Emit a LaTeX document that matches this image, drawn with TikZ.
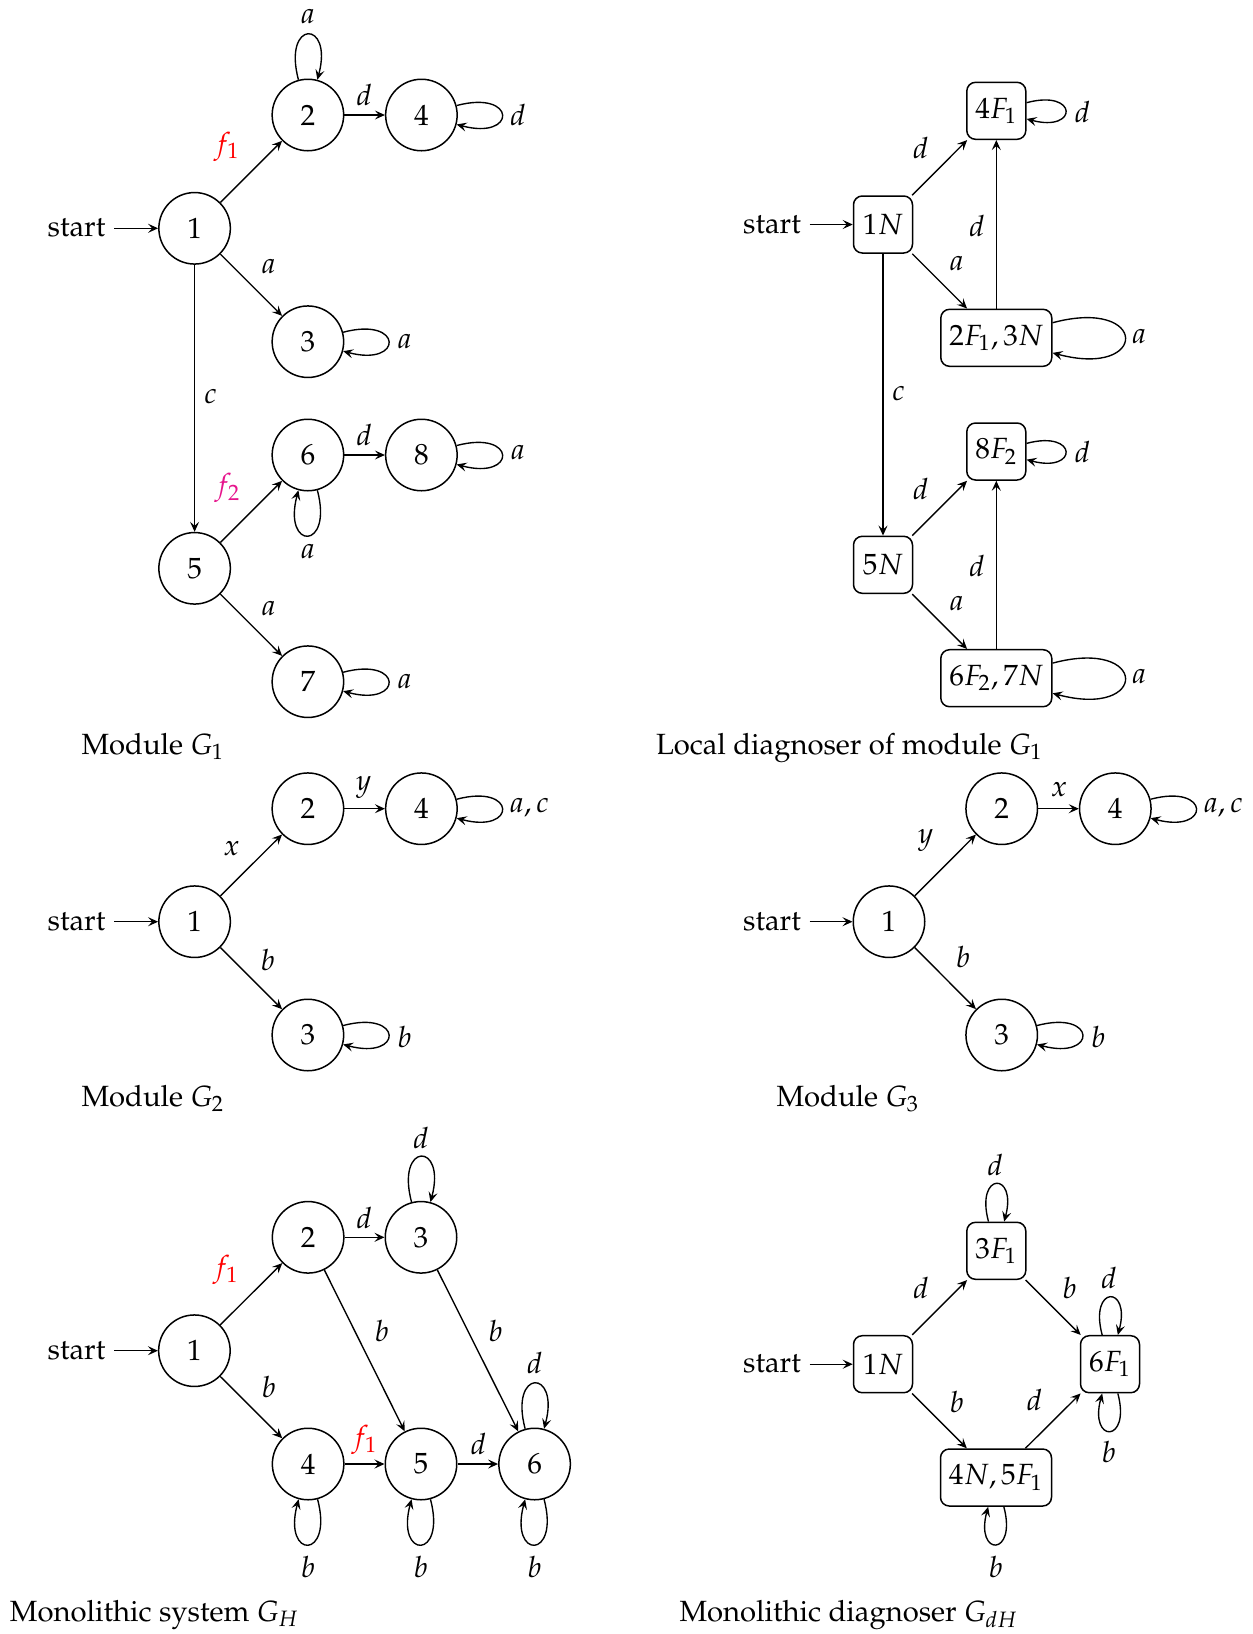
\documentclass[tikz,border=0pt]{standalone}
\usepackage[T1]{fontenc}
\usepackage{mathpazo}
\usetikzlibrary{arrows.meta}
\definecolor{fmag}{RGB}{230,20,140}
\begin{document}
\begin{tikzpicture}[x=0.4pt,y=-0.4pt,
  every node/.style={font=\fontsize{11.7}{14}\selectfont},
  state/.style={circle,draw,minimum size=28.6pt,inner sep=0pt,line width=0.6pt},
  dstate/.style={rectangle,rounded corners=3.5pt,draw,minimum width=23.6pt,minimum height=22.8pt,inner sep=2pt,line width=0.6pt},
  wstate/.style={dstate,minimum width=44.4pt},
  lbl/.style={inner sep=1pt,anchor=center},
  captext/.style={anchor=base west,inner sep=0pt},
  tr/.style={-{Stealth[length=4pt,width=3.6pt,inset=1.6pt]},line width=0.55pt},
  lr/.style={tr,loop right,looseness=8.5},
  la/.style={tr,loop above,looseness=8.5},
  lb/.style={tr,loop below,looseness=8.5},
]
\useasboundingbox (0,0) rectangle (1253,1634);

% ---------------- Module G1 ----------------
\node[state] (a1) at (194.6,228.3) {1};
\node[state] (a2) at (307.9,115) {2};
\node[state] (a3) at (307.9,341.7) {3};
\node[state] (a4) at (421.4,115) {4};
\node[state] (a5) at (194.6,568.3) {5};
\node[state] (a6) at (307.9,455) {6};
\node[state] (a7) at (307.9,681.7) {7};
\node[state] (a8) at (421.4,455) {8};
\node (as) at (76.5,228.3) {start};
\draw[tr] (as) -- (a1);
\draw[tr] (a1) -- (a2) node[lbl,text=red] at (226.8,146.7) {$f_1$};
\draw[tr] (a1) -- (a3) node[lbl] at (268.6,266.7) {$a$};
\draw[tr] (a1) -- (a5) node[lbl] at (210.7,396.7) {$c$};
\draw[tr] (a2) -- (a4) node[lbl] at (364.3,95) {$d$};
\draw[la] (a2) to (a2) node[lbl] at (307.9,16.7) {$a$};
\draw[lr] (a4) to (a4) node[lbl] at (517.9,115) {$d$};
\draw[lr] (a3) to (a3) node[lbl] at (404.6,341.7) {$a$};
\draw[tr] (a5) -- (a6) node[lbl,text=fmag] at (227.5,488.3) {$f_2$};
\draw[tr] (a5) -- (a7) node[lbl] at (268.6,608.3) {$a$};
\draw[tr] (a6) -- (a8) node[lbl] at (364.3,435) {$d$};
\draw[lb] (a6) to (a6) node[lbl] at (307.9,551.7) {$a$};
\draw[lr] (a8) to (a8) node[lbl] at (517.9,453) {$a$};
\draw[lr] (a7) to (a7) node[lbl] at (404.6,681.7) {$a$};
\node[captext] (capa) at (81,754) {Module $G_1$};

% ---------------- Local diagnoser of G1 ----------------
\node[dstate] (b1) at (883,224.5) {$1N$};
\node[dstate] (b4) at (996.3,110.8) {$4F_1$};
\node[wstate] (b23) at (996.3,337.8) {$2F_1,3N$};
\node[dstate] (b5) at (883,564.8) {$5N$};
\node[dstate] (b8) at (996.3,451.5) {$8F_2$};
\node[wstate] (b67) at (996.3,678.2) {$6F_2,7N$};
\node (bs) at (772,224.5) {start};
\draw[tr] (bs) -- (b1);
\draw[tr] (b1) -- (b4) node[lbl] at (920.7,148.3) {$d$};
\draw[tr] (b1) -- (b23) node[lbl] at (956.7,264) {$a$};
\draw[tr] (b23) -- (b4) node[lbl] at (977,225.7) {$d$};
\draw[lr] (b4) to (b4) node[lbl] at (1082.5,111.7) {$d$};
\draw[lr] (b23) to (b23) node[lbl] at (1139.2,336.7) {$a$};
\draw[tr] (b1) -- (b5) node[lbl] at (898.6,394) {$c$};
\draw[tr] (b5) -- (b8) node[lbl] at (920.7,489.3) {$d$};
\draw[tr] (b5) -- (b67) node[lbl] at (956.7,604) {$a$};
\draw[tr] (b67) -- (b8) node[lbl] at (977,565.7) {$d$};
\draw[lr] (b8) to (b8) node[lbl] at (1082.5,452.3) {$d$};
\draw[lr] (b67) to (b67) node[lbl] at (1139.2,676.7) {$a$};
\node[captext] (capb) at (655.5,754) {Local diagnoser of module $G_1$};

% ---------------- Module G2 ----------------
\node[state] (c1) at (194.6,921.7) {1};
\node[state] (c2) at (307.9,808.7) {2};
\node[state] (c3) at (307.9,1035) {3};
\node[state] (c4) at (421.4,808.7) {4};
\node (cs) at (76.5,921.7) {start};
\draw[tr] (cs) -- (c1);
\draw[tr] (c1) -- (c2) node[lbl] at (231.6,849) {$x$};
\draw[tr] (c1) -- (c3) node[lbl] at (267.9,959.5) {$b$};
\draw[tr] (c2) -- (c4) node[lbl] at (363.8,787) {$y$};
\draw[lr] (c4) to (c4) node[lbl] at (529.4,808) {$a,c$};
\draw[lr] (c3) to (c3) node[lbl] at (404.6,1037) {$b$};
\node[captext] (capc) at (81,1106.3) {Module $G_2$};

% ---------------- Module G3 ----------------
\node[state] (d1) at (889,921.7) {1};
\node[state] (d2) at (1001.7,808.7) {2};
\node[state] (d3) at (1001.7,1035) {3};
\node[state] (d4) at (1115.3,808.7) {4};
\node (ds) at (772,921.7) {start};
\draw[tr] (ds) -- (d1);
\draw[tr] (d1) -- (d2) node[lbl] at (925.6,840) {$y$};
\draw[tr] (d1) -- (d3) node[lbl] at (963.2,957) {$b$};
\draw[tr] (d2) -- (d4) node[lbl] at (1059,790) {$x$};
\draw[lr] (d4) to (d4) node[lbl] at (1223.3,808) {$a,c$};
\draw[lr] (d3) to (d3) node[lbl] at (1098.4,1037) {$b$};
\node[captext] (capd) at (776,1106.3) {Module $G_3$};

% ---------------- Monolithic system GH ----------------
\node[state] (e1) at (194.4,1350.7) {1};
\node[state] (e2) at (308.1,1237.3) {2};
\node[state] (e3) at (421,1237.3) {3};
\node[state] (e4) at (308.1,1464) {4};
\node[state] (e5) at (421,1464) {5};
\node[state] (e6) at (534.6,1464) {6};
\node (es) at (76.5,1350.7) {start};
\draw[tr] (es) -- (e1);
\draw[tr] (e1) -- (e2) node[lbl,text=red] at (225.8,1270) {$f_1$};
\draw[tr] (e1) -- (e4) node[lbl] at (269,1386.7) {$b$};
\draw[tr] (e2) -- (e3) node[lbl] at (364.3,1218.3) {$d$};
\draw[tr] (e2) -- (e5) node[lbl] at (381.9,1330.7) {$b$};
\draw[tr] (e3) -- (e6) node[lbl] at (495.6,1330.7) {$b$};
\draw[tr] (e4) -- (e5) node[lbl,text=red] at (364.7,1440) {$f_1$};
\draw[tr] (e5) -- (e6) node[lbl] at (478.4,1444) {$d$};
\draw[la] (e3) to (e3) node[lbl] at (421,1138.3) {$d$};
\draw[la] (e6) to (e6) node[lbl] at (534.6,1363.3) {$d$};
\draw[lb] (e4) to (e4) node[lbl] at (308.1,1566.7) {$b$};
\draw[lb] (e5) to (e5) node[lbl] at (421,1566.7) {$b$};
\draw[lb] (e6) to (e6) node[lbl] at (534.6,1566.7) {$b$};
\node[captext] (cape) at (9.5,1621) {Monolithic system $G_H$};

% ---------------- Monolithic diagnoser GdH ----------------
\node[dstate] (f1) at (883,1364.2) {$1N$};
\node[dstate] (f3) at (996.3,1250.8) {$3F_1$};
\node[dstate] (f6) at (1110,1364.2) {$6F_1$};
\node[wstate] (f45) at (996,1477.5) {$4N,5F_1$};
\node (fs) at (772,1364.2) {start};
\draw[tr] (fs) -- (f1);
\draw[tr] (f1) -- (f3) node[lbl] at (921,1288.3) {$d$};
\draw[tr] (f1) -- (f45) node[lbl] at (956.9,1401.7) {$b$};
\draw[tr] (f3) -- (f6) node[lbl] at (1069.6,1288.3) {$b$};
\draw[tr] (f45) -- (f6) node[lbl] at (1034.4,1400) {$d$};
\draw[la] (f3) to (f3) node[lbl] at (995.1,1165) {$d$};
\draw[la] (f6) to (f6) node[lbl] at (1108.9,1278.3) {$d$};
\draw[lb] (f6) to (f6) node[lbl] at (1108.9,1451.7) {$b$};
\draw[lb] (f45) to (f45) node[lbl] at (995.9,1566.7) {$b$};
\node[captext] (capf) at (679,1621) {Monolithic diagnoser $G_{dH}$};
\end{tikzpicture}
\end{document}
